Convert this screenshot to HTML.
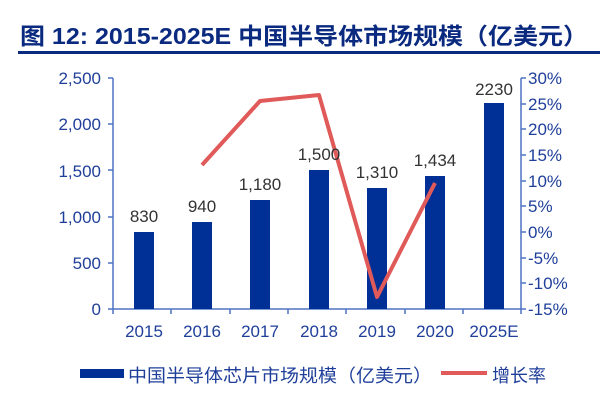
<!DOCTYPE html>
<html><head><meta charset="utf-8"><style>
body{margin:0;background:#fff;width:600px;height:400px;overflow:hidden}
</style></head><body>
<svg width="600" height="400" xmlns="http://www.w3.org/2000/svg" font-family="Liberation Sans, Noto Sans CJK SC, sans-serif">
<text x="20" y="44" font-size="23" font-weight="bold" fill="#0a2a80" textLength="568" lengthAdjust="spacingAndGlyphs">图 12: 2015-2025E 中国半导体市场规模（亿美元）</text>
<rect x="18" y="51" width="582" height="3" fill="#0a2a80"/>
<g fill="#1f3f9a" font-size="17" >
<g text-anchor="end">
<text x="101" y="315">0</text><text x="101" y="269">500</text><text x="101" y="223">1,000</text><text x="101" y="177">1,500</text><text x="101" y="130">2,000</text><text x="101" y="84">2,500</text>
</g>
<g text-anchor="start">
<text x="528" y="84">30%</text><text x="528" y="110">25%</text><text x="528" y="135">20%</text><text x="528" y="161">15%</text><text x="528" y="187">10%</text><text x="528" y="212">5%</text><text x="528" y="238">0%</text><text x="528" y="264">-5%</text><text x="528" y="289">-10%</text><text x="528" y="315">-15%</text>
</g>
<g text-anchor="middle">
<text x="144" y="337">2015</text><text x="202" y="337">2016</text><text x="260" y="337">2017</text><text x="319" y="337">2018</text><text x="377" y="337">2019</text><text x="435" y="337">2020</text><text x="494" y="337">2025E</text>
</g>
</g>
<g stroke="#4f74c4" stroke-width="1.5">
<line x1="113" y1="78" x2="113" y2="309"/><line x1="521" y1="78" x2="521" y2="309"/><line x1="113" y1="309" x2="521" y2="309"/>
<path d="M108 309H113M108 263H113M108 217H113M108 170H113M108 124H113M108 78H113"/>
<path d="M521 78H526M521 104H526M521 129H526M521 155H526M521 181H526M521 206H526M521 232H526M521 258H526M521 283H526M521 309H526"/>
<path d="M113 309V314M171 309V314M230 309V314M288 309V314M346 309V314M405 309V314M463 309V314M521 309V314"/>
</g>
<g fill="#002f96">
<rect x="134" y="232" width="20" height="77"/><rect x="192" y="222" width="20" height="87"/><rect x="250" y="200" width="20" height="109"/><rect x="309" y="170" width="20" height="139"/><rect x="367" y="188" width="20" height="121"/><rect x="425" y="176" width="20" height="133"/><rect x="484" y="103" width="20" height="206"/>
</g>
<polyline points="202,165 260,101 319,95 377,297 435,183" fill="none" stroke="#e05a5a" stroke-width="4" stroke-linejoin="round"/>
<g fill="#333" font-size="17" text-anchor="middle">
<text x="144" y="222">830</text><text x="202" y="212">940</text><text x="260" y="190">1,180</text><text x="319" y="160">1,500</text><text x="377" y="178">1,310</text><text x="435" y="166">1,434</text><text x="494" y="95">2230</text>
</g>
<rect x="80" y="369" width="44" height="9" fill="#002f96"/>
<text x="128" y="382" font-size="18" fill="#1f3f9a" textLength="304" lengthAdjust="spacingAndGlyphs">中国半导体芯片市场规模（亿美元）</text>
<rect x="441" y="371" width="46" height="4" fill="#e05a5a"/>
<text x="492" y="382" font-size="18" fill="#1f3f9a">增长率</text>
</svg>
</body></html>
